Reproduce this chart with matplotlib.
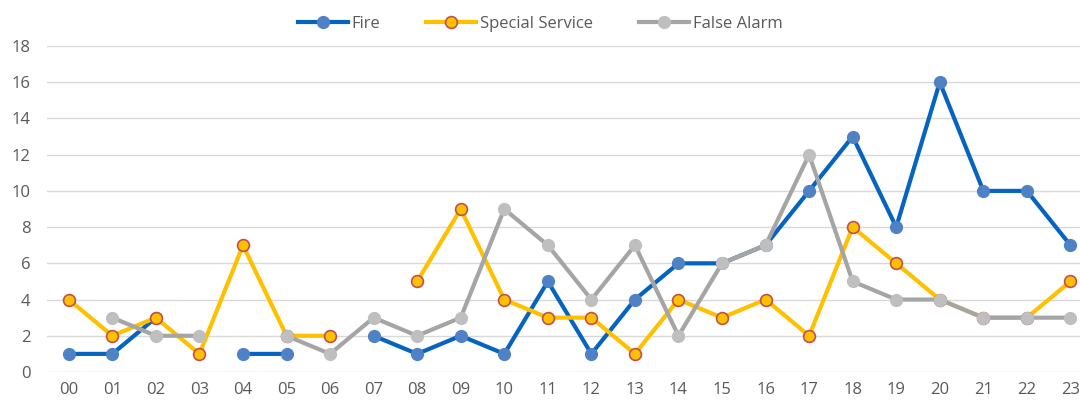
import numpy as np
import matplotlib.pyplot as plt

plt.rcParams['font.family'] = ['Open Sans', 'DejaVu Sans']

hours = ['%02d' % h for h in range(24)]
nan = np.nan
fire = [1, 1, 3, nan, 1, 1, nan, 2, 1, 2, 1, 5, 1, 4, 6, 6, 7, 10, 13, 8, 16, 10, 10, 7]
special = [4, 2, 3, 1, 7, 2, 2, nan, 5, 9, 4, 3, 3, 1, 4, 3, 4, 2, 8, 6, 4, 3, 3, 5]
false_alarm = [nan, 3, 2, 2, nan, 2, 1, 3, 2, 3, 9, 7, 4, 7, 2, 6, 7, 12, 5, 4, 4, 3, 3, 3]

fig = plt.figure(figsize=(10.8, 4.04), dpi=100)
ax = fig.add_axes([47 / 1080, 1 - 372 / 404, 1 - 47 / 1080, (372 - 46) / 404])

x = np.arange(len(hours))
ax.plot(x, fire, color='#0563C1', lw=3, marker='o', ms=8.5,
        mfc='#4F81C5', mec='#4F81C5', label='Fire', zorder=3)
ax.plot(x, special, color='#FFC000', lw=3, marker='o', ms=8.5,
        mfc='#FFC000', mec='#C0504D', mew=1.2, label='Special Service', zorder=4)
ax.plot(x, false_alarm, color='#A5A5A5', lw=3, marker='o', ms=8.5,
        mfc='#BFBFBF', mec='#BFBFBF', label='False Alarm', zorder=5)

ax.set_ylim(0, 18)
ax.set_yticks(range(0, 19, 2))
ax.set_xlim(-0.5, 23.22)
ax.set_xticks(x)
ax.set_xticklabels(hours)
ax.grid(axis='y', color='#D9D9D9', lw=1)
ax.set_axisbelow(True)
for s in ax.spines.values():
    s.set_visible(False)
ax.tick_params(length=0, labelsize=12, colors='#595959', pad=7)
ax.tick_params(axis='y', pad=12)

fig.legend(loc='upper center', bbox_to_anchor=(0.5, 0.998), ncol=3, frameon=False,
           fontsize=12, labelcolor='#595959', handlelength=3.0, columnspacing=2.8,
           handletextpad=0.2)

fig.savefig('out.png', dpi=100)
